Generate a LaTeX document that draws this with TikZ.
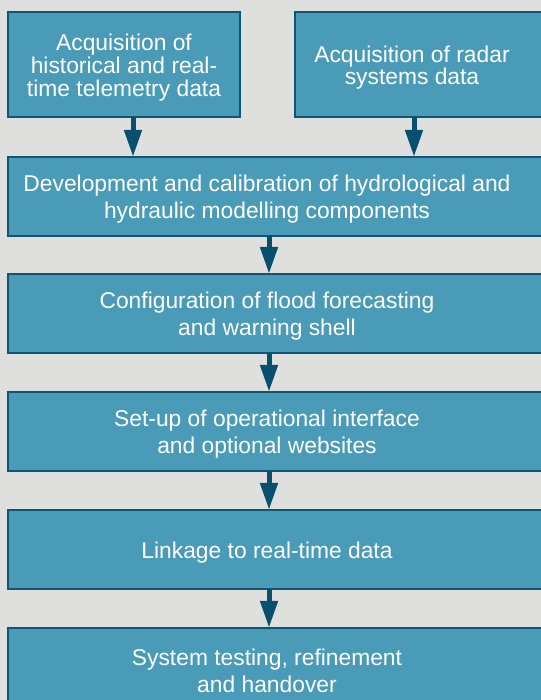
\documentclass[tikz,border=0pt]{standalone}
\usepackage{fontspec}
\setmainfont{Liberation Sans}
\usetikzlibrary{arrows.meta,backgrounds}
\definecolor{paper}{HTML}{DFE0DE}
\definecolor{boxfill}{HTML}{4A9BB7}
\definecolor{boxline}{HTML}{0D5676}
\definecolor{arrowcol}{HTML}{094F6E}
\tikzset{
  stage/.style={align=center, text=white, inner sep=0pt,
    font=\fontsize{22.9}{27}\selectfont, minimum height=79bp},
  source/.style={stage, font=\fontsize{22.9}{22.8}\selectfont, minimum height=105bp},
  frame/.style={fill=boxfill, draw=boxline, line width=2bp},
  flow/.style={draw=arrowcol, line width=5bp, -{Triangle[width=17bp,length=27bp]}}
}
\begin{document}
\begin{tikzpicture}[x=1bp, y=-1bp]
\useasboundingbox (0,0) rectangle (541,700);
\clip (0,0) rectangle (541,700);

% text nodes sit 3bp below the middle of their frames
% input stages
\node[source, minimum width=232bp] (acq1) at (124,67.5)
  {Acquisition of\\historical and real-\\time telemetry data};
\node[source, minimum width=234bp] (acq2) at (412,67.5)
  {Acquisition of radar\\systems data};

% main chain
\node[stage, minimum width=518bp] (dev) at (267,199.5)
  {Development and calibration of hydrological and\\hydraulic modelling components};
\node[stage, minimum width=518bp] (conf) at (267,316.5)
  {Configuration of flood forecasting\\and warning shell};
\node[stage, minimum width=518bp] (setup) at (267,434.5)
  {Set-up of operational interface\\and optional websites};
\node[stage, minimum width=518bp] (link) at (267,552.5)
  {Linkage to real-time data};
\node[stage, minimum width=518bp] (test) at (267,670.5)
  {System testing, refinement\\and handover};

% frames (raised 3bp), running off the right-hand edge
\begin{scope}[on background layer]
  \fill[paper] (0,0) rectangle (541,700);
  \draw[frame] ([yshift=3bp]acq1.north west) rectangle ([yshift=3bp]acq1.south east);
  \draw[frame] ([yshift=3bp]acq2.north west) rectangle ([xshift=40bp,yshift=3bp]acq2.south east);
  \foreach \n in {dev,conf,setup,link,test}
    \draw[frame] ([yshift=3bp]\n.north west) rectangle ([xshift=40bp,yshift=3bp]\n.south east);
\end{scope}

% connectors
\draw[flow] ([xshift=9bp,yshift=3bp]acq1.south) -- ([xshift=9bp,yshift=3bp]acq1.south |- dev.north);
\draw[flow] ([xshift=2bp,yshift=3bp]acq2.south) -- ([xshift=2bp,yshift=3bp]acq2.south |- dev.north);
\draw[flow] ([xshift=2bp,yshift=3bp]dev.south) -- ([xshift=2bp,yshift=3bp]conf.north);
\draw[flow] ([xshift=2bp,yshift=3bp]conf.south) -- ([xshift=2bp,yshift=3bp]setup.north);
\draw[flow] ([xshift=2bp,yshift=3bp]setup.south) -- ([xshift=2bp,yshift=3bp]link.north);
\draw[flow] ([xshift=2bp,yshift=3bp]link.south) -- ([xshift=2bp,yshift=3bp]test.north);
\end{tikzpicture}
\end{document}
